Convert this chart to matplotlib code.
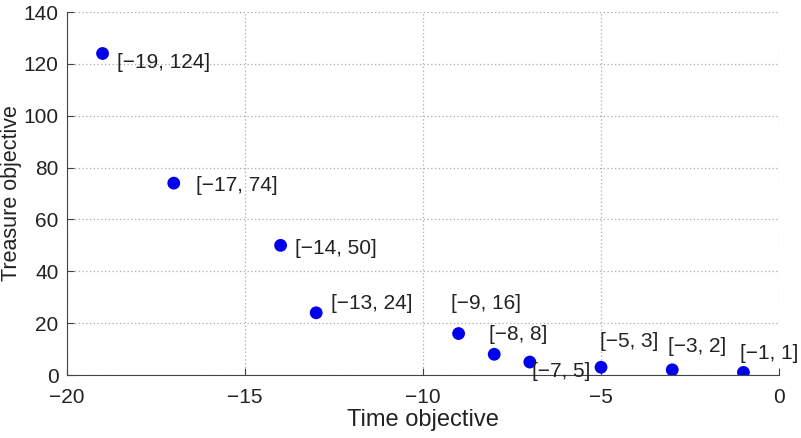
import matplotlib
matplotlib.use("Agg")
import matplotlib.pyplot as plt

# Pareto front points: [time objective, treasure objective]
time_obj = [-19, -17, -14, -13, -9, -8, -7, -5, -3, -1]
treasure = [124, 74, 50, 24, 16, 8, 5, 3, 2, 1]
# label offsets in pixels (dx, dy) relative to each point
offsets = [(14, -9), (22, -2), (14, -3), (15, 9), (-8, 30),
           (-5, 20), (2, -9), (-1, 26), (-4, 23), (-3, 19)]

plt.rcParams["font.family"] = ["Liberation Sans", "DejaVu Sans"]

fig = plt.figure(figsize=(8.01, 4.38), dpi=100)
ax = fig.add_axes([0.0836, 0.1438, 0.889, 0.8288])

ax.scatter(time_obj, treasure, s=85, color="#0000ee", zorder=3, edgecolors="none")
for x, y, (dx, dy) in zip(time_obj, treasure, offsets):
    ax.annotate("[\u2212%d, %d]" % (-x, y), (x, y), xytext=(dx, dy),
                textcoords="offset pixels", ha="left", va="center",
                fontsize=15, color="#222222")

ax.set_xlim(-20, 0)
ax.set_ylim(0, 140)
ax.set_xticks([-20, -15, -10, -5, 0])
ax.set_xticklabels(["\u221220", "\u221215", "\u221210", "\u22125", "0"])
ax.set_yticks(range(0, 141, 20))
ax.grid(True, ls=(0, (1, 2)), color="#aaaaaa", lw=0.9)
ax.set_axisbelow(True)
for s in ["top", "right"]:
    ax.spines[s].set_visible(False)
for s in ["left", "bottom"]:
    ax.spines[s].set_color("#444444")
ax.tick_params(direction="in", length=5, labelsize=15, colors="#444444",
               labelcolor="#222222")
ax.tick_params(axis="x", pad=9)
ax.tick_params(axis="y", pad=6)
ax.set_xlabel("Time objective", fontsize=17, color="#222222", labelpad=2)
ax.set_ylabel("Treasure objective", fontsize=15.5, color="#222222", labelpad=1)

fig.savefig("out.png", dpi=100)
